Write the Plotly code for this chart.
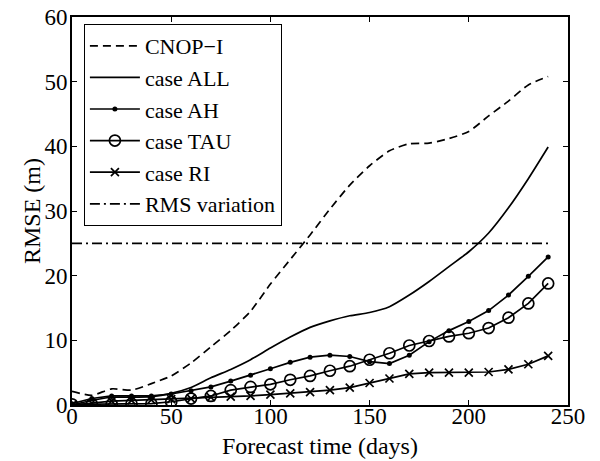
import plotly.graph_objects as go

days = [0, 10, 20, 30, 40, 50, 60, 70, 80, 90, 100, 110, 120, 130, 140, 150,
        160, 170, 180, 190, 200, 210, 220, 230, 240]

cnop = [2.1, 1.5, 2.5, 2.3, 3.3, 4.5, 6.5, 9.0, 11.5, 14.5, 18.7, 22.5, 26.3,
        30.3, 34.0, 37.0, 39.3, 40.4, 40.5, 41.2, 42.3, 44.7, 47.0, 49.5, 50.8]
case_all = [0.0, 0.7, 1.2, 1.2, 1.3, 1.8, 2.7, 4.2, 5.5, 7.0, 8.8, 10.5, 12.0,
            13.0, 13.8, 14.3, 15.2, 17.0, 19.1, 21.4, 23.7, 26.6, 30.5, 35.0, 39.9]
case_ah = [0.2, 1.0, 1.4, 1.4, 1.4, 1.7, 2.2, 2.8, 3.7, 4.6, 5.6, 6.6, 7.4,
           7.7, 7.5, 6.7, 6.4, 7.7, 9.8, 11.5, 12.9, 14.6, 17.0, 19.9, 22.9]
case_tau = [0.1, 0.1, 0.1, 0.2, 0.2, 0.5, 1.0, 1.4, 2.3, 2.8, 3.2, 3.9, 4.5,
            5.3, 6.0, 7.0, 8.0, 9.2, 9.9, 10.6, 11.1, 11.9, 13.5, 15.7, 18.8]
case_ri = [0.0, 0.3, 0.6, 0.7, 0.8, 0.9, 1.0, 1.2, 1.3, 1.4, 1.6, 1.8, 2.0,
           2.3, 2.7, 3.4, 4.1, 4.8, 5.0, 5.0, 5.0, 5.1, 5.5, 6.3, 7.6]
rms_days = [0, 240]
rms_var = [25, 25]

x_ticks = [0, 50, 100, 150, 200, 250]
y_ticks = [0, 10, 20, 30, 40, 50, 60]

FONT = "Liberation Serif"
LW = 1.7

fig = go.Figure()
fig.add_trace(go.Scatter(x=days, y=cnop, name="CNOP\u2212I", mode="lines",
                         line=dict(color="black", width=LW, dash="8px,5px", shape="spline", smoothing=0.6)))
fig.add_trace(go.Scatter(x=days, y=case_all, name="case ALL", mode="lines",
                         line=dict(color="black", width=LW, shape="spline", smoothing=0.6)))
fig.add_trace(go.Scatter(x=days, y=case_ah, name="case AH", mode="lines+markers",
                         line=dict(color="black", width=LW),
                         marker=dict(symbol="circle", size=5, color="black")))
fig.add_trace(go.Scatter(x=days, y=case_tau, name="case TAU", mode="lines+markers",
                         line=dict(color="black", width=LW),
                         marker=dict(symbol="circle-open", size=11, color="black",
                                     line=dict(width=1.7, color="black"))))
fig.add_trace(go.Scatter(x=days, y=case_ri, name="case RI", mode="lines+markers",
                         line=dict(color="black", width=LW),
                         marker=dict(symbol="x-thin-open", size=8, color="black",
                                     line=dict(width=1.7, color="black"))))
fig.add_trace(go.Scatter(x=rms_days, y=rms_var, name="RMS variation", mode="lines",
                         line=dict(color="black", width=LW, dash="10px,4px,2px,4px")))

axis_common = dict(showgrid=False, zeroline=False, showline=True, linecolor="black",
                   linewidth=1.7, mirror="ticks", ticks="inside", ticklen=5,
                   tickwidth=1, tickcolor="black", automargin=False,
                   tickfont=dict(family=FONT, size=23, color="black"))

fig.update_xaxes(range=[0, 250], tickvals=x_ticks, ticktext=[str(v) for v in x_ticks],
                 ticklabelstandoff=-10, **axis_common)
fig.update_yaxes(range=[0, 60], tickvals=y_ticks, ticktext=[str(v) for v in y_ticks],
                 ticklabelstandoff=-2, **axis_common)

fig.add_annotation(text="Forecast time (days)", xref="paper", yref="paper",
                   x=0.5, y=-0.1045, xanchor="center", yanchor="middle", showarrow=False,
                   font=dict(family=FONT, size=24, color="black"))
fig.add_annotation(text="RMSE (m)", xref="paper", yref="paper",
                   x=-0.0806, y=0.5, xanchor="center", yanchor="middle", showarrow=False,
                   textangle=-90, font=dict(family=FONT, size=24, color="black"))

fig.update_layout(
    width=600, height=461,
    margin=dict(l=72, r=32, t=17, b=56, autoexpand=False),
    paper_bgcolor="white", plot_bgcolor="white",
    font=dict(family=FONT, size=23, color="black"),
    showlegend=True,
    legend=dict(x=0.024, y=0.982, xanchor="left", yanchor="top",
                bgcolor="white", bordercolor="black", borderwidth=1,
                font=dict(family=FONT, size=22, color="black"),
                tracegroupgap=0, itemwidth=50),
)

fig.write_html("out.html", config={"displayModeBar": False},
               post_script="document.body.style.margin='0';document.body.style.overflow='hidden';")
